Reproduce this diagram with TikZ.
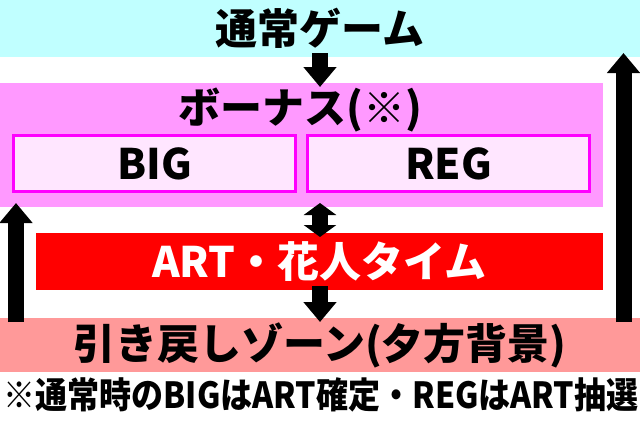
\documentclass[tikz,border=0pt]{standalone}
\usepackage{fontspec}
\setmainfont{Noto Sans CJK JP}
\usetikzlibrary{positioning, arrows.meta}
\definecolor{normalcyan}{RGB}{192,255,255}
\definecolor{bonuspink}{RGB}{255,153,255}
\definecolor{bonuslight}{RGB}{255,230,255}
\definecolor{bonusedge}{RGB}{255,0,255}
\definecolor{artred}{RGB}{255,0,0}
\definecolor{zonesalmon}{RGB}{255,153,153}
\tikzset{
    band/.style = {rectangle, inner sep=0pt, outer sep=0pt, anchor=north west},   % Coloured strips and boxes
    big text/.style = {font=\bfseries\fontsize{42}{42}\selectfont},               % Large bold captions
    subbox/.style = {band, draw=bonusedge, line width=3pt, fill=bonuslight,
                     minimum width=282pt, minimum height=56pt, big text},          % BIG / REG boxes
    bigarrow/.style = {line width=16pt, -{Triangle[width=32pt, length=20pt]},
                       shorten <=-4pt, shorten >=-4pt},                           % Thick block arrows
    twoway/.style = {line width=16pt, {Triangle[width=32pt, length=12pt]}-{Triangle[width=32pt, length=12pt]},
                     shorten <=-4pt, shorten >=-4pt}                              % Double headed arrow
}

\begin{document}
\begin{tikzpicture}[x=1pt, y=-1pt]
    \useasboundingbox (0,0) rectangle (640,424);
    % Define nodes
    \node [band, fill=normalcyan, minimum width=640pt, minimum height=57pt, big text] (normal) at (0,0) {通常ゲーム};
    \node [band, fill=bonuspink, minimum width=603pt, minimum height=124pt] (bonus) at (0,83) {};
    \node [big text] (bonustitle) at (300,110) {ボーナス(※)};
    \node [subbox] (big) at (13.5,135.5) {BIG};
    \node [subbox, right=12pt of big] (reg) {REG};
    \node [band, fill=artred, text=white, minimum width=567pt, minimum height=57pt, big text] (art) at (36,233) {ART・花人タイム};
    \node [band, fill=zonesalmon, minimum width=640pt, minimum height=54pt, big text] (zone) at (0,318) {引き戻しゾーン(夕方背景)};
    \node [font=\bfseries\fontsize{36}{36}\selectfont, xscale=0.89, transform shape] (note) at (321,395) {※通常時のBIGはART確定・REGはART抽選};
    \coordinate (leftrail) at (16,0);
    \coordinate (rightrail) at (623.5,0);

    % Draw arrows
    \draw [bigarrow] (normal.south) -- (normal.south |- bonus.north);
    \draw [twoway] (normal.south |- bonus.south) -- (normal.south |- art.north);
    \draw [bigarrow] (normal.south |- art.south) -- (zone.north);
    \draw [bigarrow] (zone.north -| leftrail) -- (bonus.south -| leftrail);
    \draw [bigarrow] (zone.north -| rightrail) -- (normal.south -| rightrail);
\end{tikzpicture}
\end{document}
